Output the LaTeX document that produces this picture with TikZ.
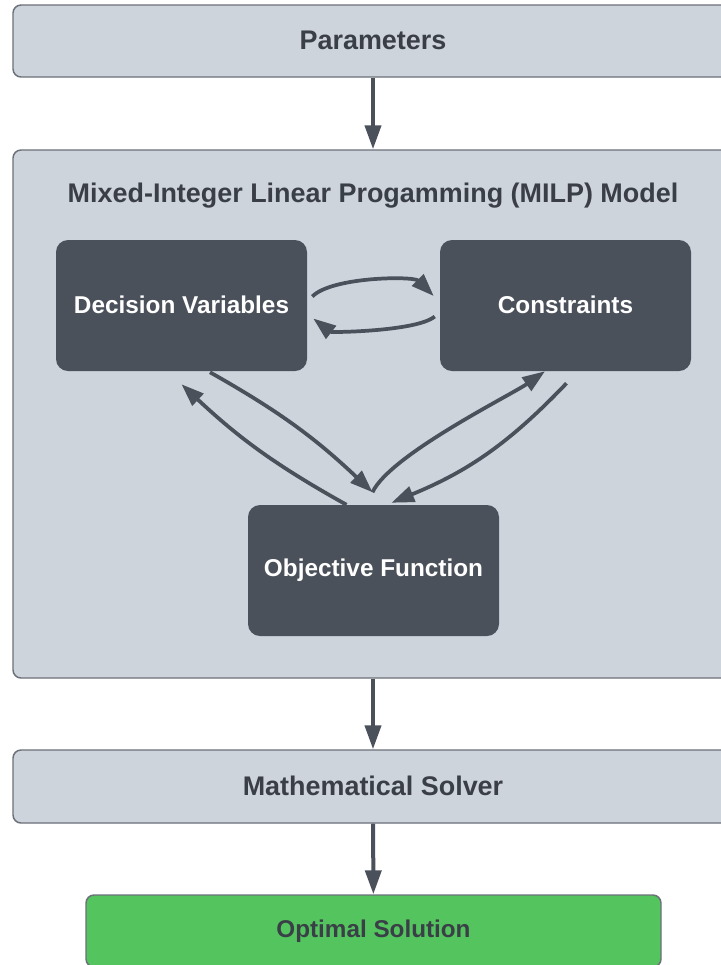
\documentclass[tikz,border=0pt]{standalone}
\usepackage{fontspec}
\setmainfont{Liberation Sans}
\usetikzlibrary{arrows.meta,calc}
\definecolor{boxfill}{HTML}{CED4DC}
\definecolor{boxline}{HTML}{6B7079}
\definecolor{darknode}{HTML}{4B515B}
\definecolor{txtdark}{HTML}{3A3F47}
\definecolor{okgreen}{HTML}{54C45E}
\begin{document}
\begin{tikzpicture}[x=0.75pt,y=-0.75pt,
  lightbox/.style={draw=boxline, fill=boxfill, line width=1.1pt, rounded corners=6pt,
    minimum width=540pt, text=txtdark, inner sep=0pt,
    font=\bfseries\fontsize{20.2}{24}\selectfont},
  darkbox/.style={fill=darknode, rounded corners=9pt, minimum width=188.25pt,
    minimum height=98.25pt, text=white, inner sep=0pt,
    font=\bfseries\fontsize{18.25}{21}\selectfont},
  titletext/.style={text=txtdark, inner sep=0pt, font=\bfseries\fontsize{20.2}{24}\selectfont},
  flow/.style={draw=darknode, line width=3pt, -{Triangle[length=18pt,width=12pt]}},
  cflow/.style={draw=darknode, line width=2.8pt, -{Triangle[length=17pt,width=12pt]}}]
\useasboundingbox (0,0) rectangle (721,965);
\clip (0,0) rectangle (721,965);
\fill[white] (0,0) rectangle (721,965);

\node[lightbox, minimum height=54pt] (par) at (373,41) {\raisebox{0.8pt}{Parameters}};
\node[lightbox, minimum height=396pt] (milp) at (373,414) {};
\node[titletext] (title) at (373,196) {Mixed-Integer Linear Progamming (MILP) Model};
\node[darkbox] (dv) at (181.5,305.5) {\raisebox{1.3pt}{Decision Variables}};
\node[darkbox] (con) at (565.5,305.5) {\raisebox{1.3pt}{Constraints}};
\node[darkbox] (of) at (373.5,570.5) {Objective Function};
\node[lightbox, minimum height=54.75pt] (sol) at (373,786.5) {\raisebox{1.3pt}{Mathematical Solver}};
\node[lightbox, fill=okgreen, minimum width=431.25pt, minimum height=54pt,
  font=\bfseries\fontsize{18.2}{22}\selectfont] (opt) at (373.5,931) {\raisebox{0.8pt}{Optimal Solution}};

\draw[flow] (par) -- (milp);
\draw[flow] (milp) -- (sol);
\draw[flow] (sol) -- (opt);

\draw[cflow] ($(dv.east)+(5,-9)$) .. controls +(20,-20) and +(-20,-20) .. ($(con.west)+(-6,-9.5)$);
\draw[cflow] ($(con.west)+(-5,11)$) .. controls +(-18,15) and +(18,14) .. ($(dv.east)+(6,13)$);

\draw[cflow] ($(dv.south)+(28.5,1)$) to[bend left=7] ($(of.north)+(-1,-12.5)$);
\draw[cflow] ($(of.north)+(-27,0)$) to[bend left=7] ($(dv.south)+(0,13)$);
\draw[cflow] ($(of.north)+(-1,-12.5)$) to[out=65,in=215,looseness=0.5] ($(con.south)+(-20.5,0)$);
\draw[cflow] ($(con.south)+(1,12)$) to[bend left=12] ($(of.north)+(18,-2)$);
\end{tikzpicture}
\end{document}
